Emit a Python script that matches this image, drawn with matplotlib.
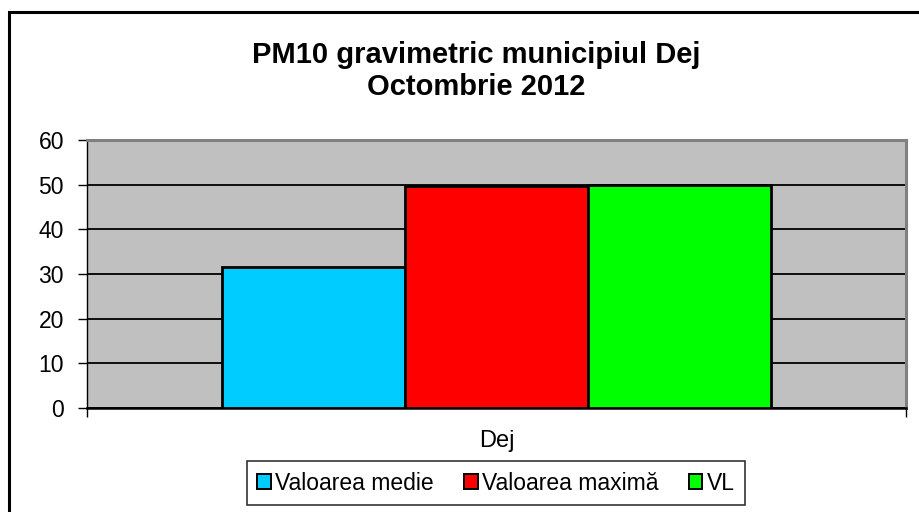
import matplotlib.pyplot as plt
from matplotlib.patches import Rectangle

plt.rcParams["font.family"] = ["Liberation Sans", "DejaVu Sans"]

# date
categorie = ["Dej"]
serii = ["Valoarea medie", "Valoarea maximă", "VL"]
valori = [31.6, 49.7, 50.0]
culori = ["#00CCFF", "#FF0000", "#00FF00"]
yticks = [0, 10, 20, 30, 40, 50, 60]

W, H = 920, 512
fig = plt.figure(figsize=(9.2, 5.12), dpi=100)
ax = fig.add_axes([87 / W, 1 - 408 / H, (906 - 87) / W, (408 - 140) / H])
ax.set_facecolor("#C0C0C0")

latime = 183 / 819
for i, (s, v, c) in enumerate(zip(serii, valori, culori)):
    ax.bar(
        (i - 1) * latime,
        v,
        width=latime,
        color=c,
        edgecolor="black",
        linewidth=2,
        label=s,
        zorder=3,
    )

ax.set_xlim(-0.5, 0.5)
ax.set_ylim(0, 60)
ax.set_yticks(yticks)
ax.set_yticklabels([str(t) for t in yticks], fontsize=16.5)
ax.yaxis.grid(True, color="black", linewidth=1.3, zorder=1)
ax.set_axisbelow(True)
ax.tick_params(axis="y", length=6.5, width=1, pad=10, direction="out")
ax.set_xticks([-0.5, 0.5])
ax.set_xticklabels(["", ""])
ax.tick_params(axis="x", length=6.5, width=1, direction="out")

ax.spines["top"].set_color("#808080")
ax.spines["right"].set_color("#808080")
ax.spines["top"].set_linewidth(2.2)
ax.spines["right"].set_linewidth(2.2)
ax.spines["left"].set_linewidth(1)
ax.spines["bottom"].set_linewidth(1.8)

ax.text(0, -0.125, categorie[0], transform=ax.get_xaxis_transform(),
        ha="center", va="center", fontsize=17)

leg = fig.legend(
    loc="center",
    bbox_to_anchor=(496 / W, 1 - 483 / H),
    ncol=3,
    fontsize=16.5,
    frameon=True,
    fancybox=False,
    edgecolor="black",
    handlelength=0.6,
    handleheight=0.6,
    handletextpad=0.2,
    columnspacing=1.3,
    borderpad=0.45,
    borderaxespad=0,
)
leg.get_frame().set_linewidth(1.2)
for h in leg.legend_handles:
    h.set_linewidth(1.4)

fig.text(476 / W, 1 - 55 / H, "PM10 gravimetric municipiul Dej",
         ha="center", va="center", fontsize=21, fontweight="bold")
fig.text(476 / W, 1 - 87 / H, "Octombrie 2012",
         ha="center", va="center", fontsize=21, fontweight="bold")

# chenarul graficului
fig.patches.append(Rectangle((9 / W, -0.1), 1.2, 1 - 12 / H + 0.1,
                             transform=fig.transFigure, fill=False,
                             edgecolor="black", linewidth=2.2))

fig.savefig("out.png", dpi=100)
